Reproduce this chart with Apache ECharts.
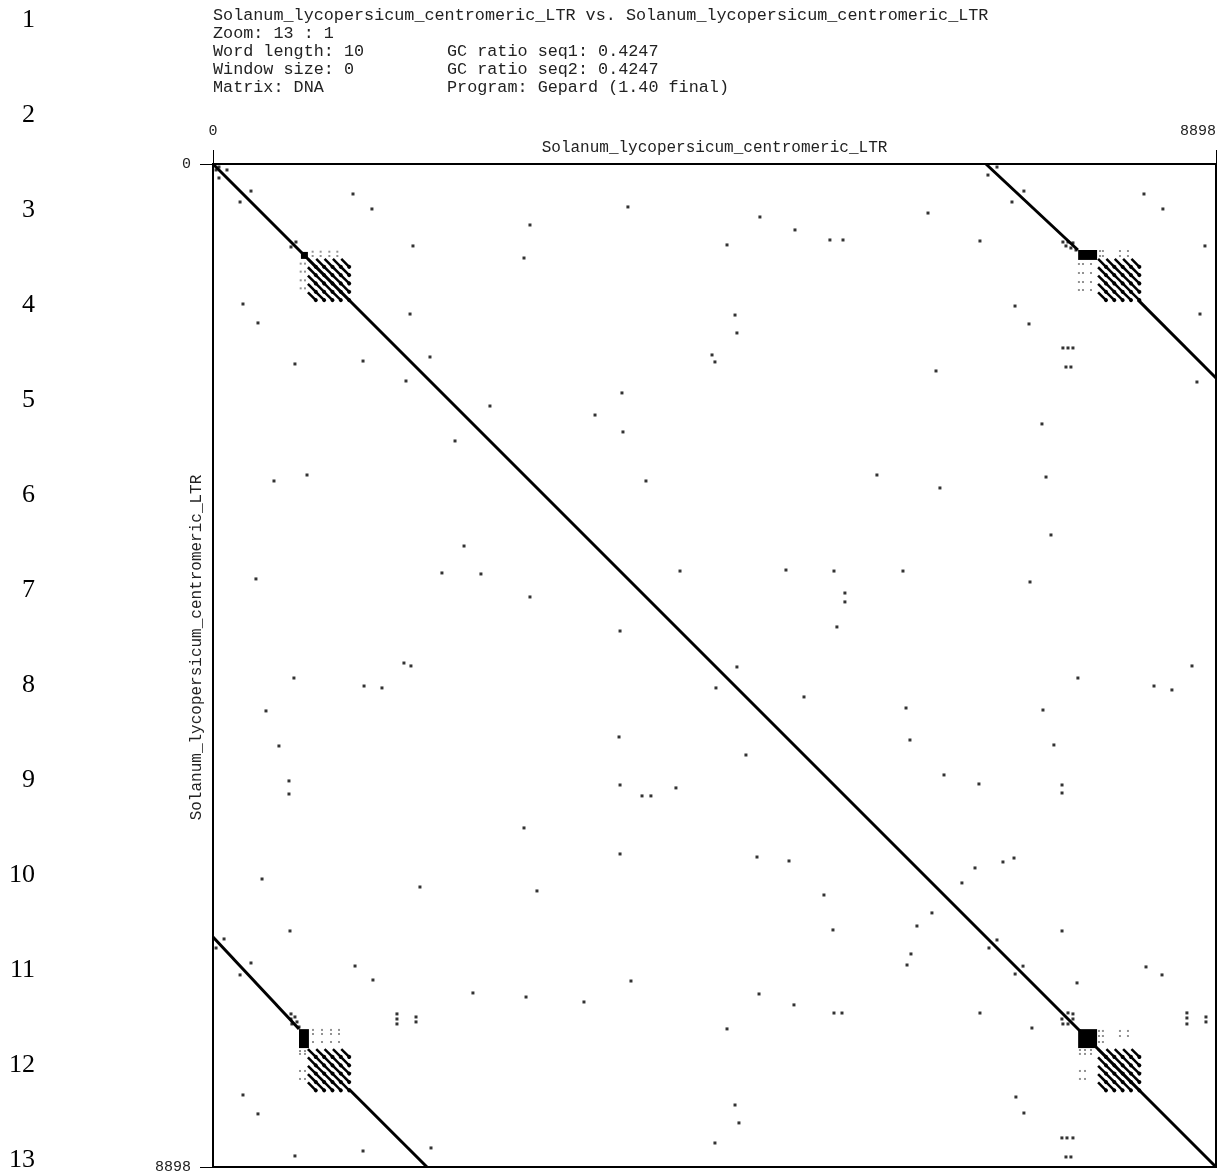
<!DOCTYPE html>
<html>
<head>
<meta charset="utf-8">
<script src="https://cdn.jsdelivr.net/npm/echarts@6/dist/echarts.min.js"></script>
<style>
html,body{margin:0;padding:0;background:#fff;}
#chart{width:1227px;height:1175px;}
</style>
</head>
<body>
<div id="chart"></div>
<script>
// Gepard dot plot: the centromeric LTR element compared with itself.
const seqName = 'Solanum_lycopersicum_centromeric_LTR';
const seqLength = 8898;
const axisTicks = [0, 8898];

const headerLeft = [
  'Solanum_lycopersicum_centromeric_LTR vs. Solanum_lycopersicum_centromeric_LTR',
  'Zoom: 13 : 1',
  'Word length: 10',
  'Window size: 0',
  'Matrix: DNA'
];
const headerRight = ['', '', 'GC ratio seq1: 0.4247', 'GC ratio seq2: 0.4247', 'Program: Gepard (1.40 final)'];
const rowNumbers = ['1','2','3','4','5','6','7','8','9','10','11','12','13'];

// long alignments [x1, y1, x2, y2] in sequence positions
const alignments = [
  [0, 0, 8898, 8898],
  [6857, 0, 7673, 763],
  [8206, 1205, 8898, 1898],
  [0, 6857, 763, 7673],
  [1205, 8206, 1898, 8898]
];

// dense low-complexity blocks [x1, y1, x2, y2]
const blocks = [
  [780, 780, 842, 842],
  [7675, 763, 7843, 851],
  [763, 7675, 851, 7843],
  [7675, 7675, 7843, 7843]
];

// start positions of the tandem copies inside each LTR
const tandemUnit = 70;
const tandemCopies5 = [842, 916, 990, 1064, 1138];
const tandemCopies3 = [7852, 7926, 8000, 8074, 8148];

// isolated word hits above the main diagonal
const upperHits = [
  [53,27],[124,53],[337,240],[736,692],
  [1242,266],[1410,399],[1774,727],[1748,1331],[2812,541],[3681,381],[4852,470],[5163,585],
  [6343,435],[8259,266],[8427,399],[8800,727],[8756,1331],[6804,683],[7115,1260],[7239,1419],
  [7540,1632],[7585,1632],[7629,1632],[7567,1801],[7611,1801],
  [2759,834],[4560,718],[5473,674],[5589,674],[4631,1340],[4648,1499],[1925,1712],
  [4427,1694],[4453,1756],[6414,1836],[8729,1934],[3628,2031],[2457,2147],[3389,2227],
  [3637,2377],[7354,2306],[3841,2812],[5890,2759],[6449,2874],[7390,2777],[7434,3291],
  [4143,3611],[5083,3602],[5509,3611],[6121,3611],[7248,3708],[5606,3806],[5606,3885],
  [5535,4107],[4648,4462],[5243,4728],[7673,4560],[8348,4631],[8507,4666],[8685,4453],
  [6148,4826],[7363,4844],[6183,5110],[7460,5154],[6485,5420],[6795,5500],[7532,5509],
  [7532,5580],[6760,6245],[7008,6192],[7106,6157],[6644,6378],[8277,7123],[8419,7194],
  [8640,7531],[8640,7576],[8640,7629],[8809,7567],[8809,7611],[7532,6804],[7665,7265],
  [6955,6884],[7186,7116],[6875,98],[6955,27],[7194,240],[7088,337],
  [7540,692],[7585,692],[7629,700],[7567,727],[7611,745],[7656,763],
  [7585,7531],[7629,7540],[7629,7585]
];

// faint short-word hits around the tandem arrays (upper half)
const upperWeakHits = [
  [884,778],[884,816],[955,778],[955,816],[1032,778],[1032,816],[1103,778],[1103,816],
  [7869,772],[7895,772],[8046,772],[8117,772],[7869,816],[7895,816],[8046,816],[8117,816],
  [7682,887],[7718,887],[7789,887],[7682,967],[7718,967],[7789,967],
  [7682,1047],[7718,1047],[7789,1047],[7682,1118],[7718,1118],[7789,1118],
  [7860,7691],[7895,7691],[8046,7691],[8117,7691],[7860,7736],[7895,7736],[8046,7736],[8117,7736],
  [7860,7789],[7895,7789]
];

// a self-comparison is symmetric: hit (i, j) is also hit (j, i)
const mirror = list => list.flatMap(([x, y]) => x === y ? [[x, y]] : [[x, y], [y, x]]);
const hits = mirror(upperHits);
const weakHits = mirror(upperWeakHits);

function tandemSegments(xs, ys) {
  const segs = [];
  xs.forEach(x => ys.forEach(y => {
    segs.push({ coords: [[x, y], [x + tandemUnit, y + tandemUnit]] });
  }));
  return segs;
}
const tandemData = [
  ...tandemSegments(tandemCopies5, tandemCopies5),
  ...tandemSegments(tandemCopies3, tandemCopies5),
  ...tandemSegments(tandemCopies5, tandemCopies3),
  ...tandemSegments(tandemCopies3, tandemCopies3)
];

const monoFont = '"Liberation Mono", "DejaVu Sans Mono", monospace';
const graphics = [];
headerLeft.forEach((t, i) => {
  graphics.push({ type: 'text', left: 213, top: 7 + i * 18,
    style: { text: t, font: '16.8px ' + monoFont, fill: '#222' } });
});
headerRight.forEach((t, i) => {
  if (!t) return;
  graphics.push({ type: 'text', left: 447, top: 7 + i * 18,
    style: { text: t, font: '16.8px ' + monoFont, fill: '#222' } });
});
rowNumbers.forEach((t, i) => {
  graphics.push({ type: 'text', x: 35, y: 20 + i * 95,
    style: { text: t, font: '26px "Liberation Serif", serif', fill: '#000', align: 'right', verticalAlign: 'middle' } });
});

const plainNumber = v => String(v);

const chart = echarts.init(document.getElementById('chart'), null, { renderer: 'canvas' });
chart.setOption({
  backgroundColor: '#fff',
  animation: false,
  graphic: graphics,
  grid: { left: 213, top: 164, right: 11, bottom: 8, show: true, borderColor: '#000', borderWidth: 2, backgroundColor: '#fff' },
  xAxis: {
    type: 'value', position: 'top', min: 0, max: seqLength,
    axisLine: { lineStyle: { color: '#000', width: 2 } },
    axisTick: { show: true, customValues: axisTicks, length: 14, lineStyle: { color: '#000', width: 1 } },
    axisLabel: { customValues: axisTicks, formatter: plainNumber, margin: 25, fontFamily: monoFont, fontSize: 15, color: '#222', alignMaxLabel: 'right' },
    splitLine: { show: false },
    name: seqName, nameLocation: 'middle', nameGap: 8, nameMoveOverlap: false,
    nameTextStyle: { fontFamily: monoFont, fontSize: 16, color: '#222', verticalAlign: 'bottom' }
  },
  yAxis: {
    type: 'value', inverse: true, min: 0, max: seqLength,
    axisLine: { lineStyle: { color: '#000', width: 2 } },
    axisTick: { show: true, customValues: axisTicks, length: 13, lineStyle: { color: '#000', width: 1 } },
    axisLabel: { customValues: axisTicks, formatter: plainNumber, margin: 22, fontFamily: monoFont, fontSize: 15, color: '#222' },
    splitLine: { show: false },
    name: seqName, nameLocation: 'middle', nameGap: 8, nameRotate: 90, nameMoveOverlap: false,
    nameTextStyle: { fontFamily: monoFont, fontSize: 16, color: '#222', verticalAlign: 'bottom', padding: [0, 0, 0, 36] }
  },
  series: [
    {
      type: 'lines', coordinateSystem: 'cartesian2d', silent: true,
      lineStyle: { color: '#000', width: 3, opacity: 1 },
      data: alignments.map(a => ({ coords: [[a[0], a[1]], [a[2], a[3]]] }))
    },
    {
      type: 'lines', coordinateSystem: 'cartesian2d', silent: true,
      symbol: ['none', 'circle'], symbolSize: 4,
      lineStyle: { color: '#000', width: 2.5, opacity: 1 },
      data: tandemData
    },
    {
      type: 'custom', silent: true,
      data: blocks,
      encode: { x: [0, 2], y: [1, 3] },
      renderItem: (params, api) => {
        const p0 = api.coord([api.value(0), api.value(1)]);
        const p1 = api.coord([api.value(2), api.value(3)]);
        return { type: 'rect', shape: { x: p0[0], y: p0[1], width: p1[0] - p0[0], height: p1[1] - p0[1] }, style: { fill: '#000' } };
      }
    },
    {
      type: 'scatter', silent: true, symbol: 'rect', symbolSize: 2,
      itemStyle: { color: '#777' },
      data: weakHits
    },
    {
      type: 'scatter', silent: true, symbol: 'rect', symbolSize: 3,
      itemStyle: { color: '#000' },
      data: hits
    }
  ]
});
</script>
</body>
</html>
